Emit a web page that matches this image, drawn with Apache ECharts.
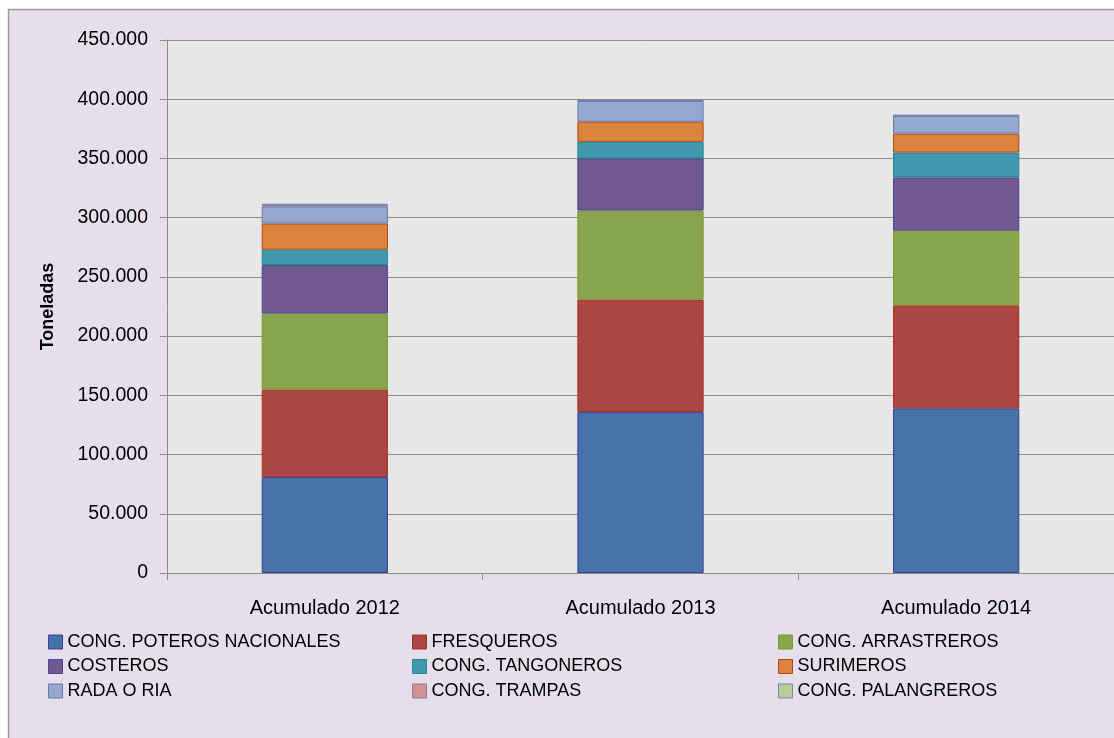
<!DOCTYPE html>
<html>
<head>
<meta charset="utf-8">
<script src="https://cdn.jsdelivr.net/npm/echarts@6/dist/echarts.min.js"></script>
<style>
html,body{margin:0;padding:0;background:#fff;}
#c{width:1114px;height:738px;}
</style>
</head>
<body>
<div id="c"></div>
<script>
const categories = ['Acumulado 2012', 'Acumulado 2013', 'Acumulado 2014'];
const seriesNames = ['CONG. POTEROS NACIONALES', 'FRESQUEROS', 'CONG. ARRASTREROS', 'COSTEROS', 'CONG. TANGONEROS', 'SURIMEROS', 'RADA O RIA', 'CONG. TRAMPAS', 'CONG. PALANGREROS'];
const poteros = [81000, 136000, 139000];
const fresqueros = [74000, 95000, 87000];
const arrastreros = [64000, 75000, 63000];
const costeros = [41000, 44000, 45000];
const tangoneros = [13000, 14000, 21000];
const surimeros = [22000, 17000, 16000];
const rada = [14500, 17500, 15000];
const trampas = [1000, 500, 300];
const palangreros = [1200, 500, 300];
const yTicks = [0, 50000, 100000, 150000, 200000, 250000, 300000, 350000, 400000, 450000];

const values = [poteros, fresqueros, arrastreros, costeros, tangoneros, surimeros, rada, trampas, palangreros];
const colors = ['#4572a7', '#aa4643', '#89a54e', '#71588f', '#4198af', '#db843d', '#93a9cf', '#d19392', '#b9cd96'];
const borders = ['#3d3d9e', '#a8331c', '#7f9a2a', '#47449a', '#1f8a8a', '#b0471a', '#7276a8', '#8a7aa8', '#7a80b0'];

function fmt(v){ return String(v).replace(/\B(?=(\d{3})+(?!\d))/g, '.'); }

const chart = echarts.init(document.getElementById('c'));
const font = 'Liberation Sans';
const series = seriesNames.map((n, i) => ({
  name: n, type: 'bar', stack: 'total', data: values[i], barWidth: '40%',
  itemStyle: { color: colors[i], borderColor: borders[i], borderWidth: 1 },
  emphasis: { disabled: true }
}));
function legend(idx, left){
  return {
    orient: 'vertical', left: left, top: 632, padding: 0, itemWidth: 14, itemHeight: 14, itemGap: 4.5,
    icon: 'rect', selectedMode: false,
    data: idx.map(i => ({ name: seriesNames[i], itemStyle: { color: colors[i], borderColor: borders[i], borderWidth: 1 } })),
    textStyle: { fontFamily: font, fontSize: 18, lineHeight: 20, color: '#000' }
  };
}
chart.setOption({
  animation: false,
  backgroundColor: '#ffffff',
  graphic: [{ type: 'rect', z: -10, shape: { x: 8.5, y: 9.5, width: 1200, height: 800 }, style: { fill: '#e5dfec', stroke: '#9a9a9a', lineWidth: 1.5 } }],
  grid: { left: 167, right: 0, top: 40, bottom: 165, show: true, backgroundColor: '#e7e7e7', borderWidth: 0 },
  legend: [legend([0,3,6], 48), legend([1,4,7], 412), legend([2,5,8], 778)],
  xAxis: {
    type: 'category', data: categories,
    axisLine: { lineStyle: { color: '#8c8c8c', width: 1 } },
    axisTick: { show: true, length: 7, lineStyle: { color: '#8c8c8c' } },
    axisLabel: { fontFamily: font, fontSize: 20, color: '#000', margin: 25 }
  },
  yAxis: {
    type: 'value', min: 0, max: 450000, interval: 50000,
    name: 'Toneladas', nameLocation: 'middle', nameGap: 110, nameRotate: 90,
    nameTextStyle: { fontFamily: font, fontSize: 18, fontWeight: 'bold', color: '#000' },
    axisLine: { show: true, lineStyle: { color: '#8c8c8c' } },
    axisTick: { show: true, length: 7, lineStyle: { color: '#8c8c8c' } },
    splitLine: { lineStyle: { color: '#8c8c8c', width: 1 } },
    axisLabel: { fontFamily: font, fontSize: 19.5, color: '#000', margin: 19,
      formatter: v => yTicks.includes(v) ? fmt(v) : '' }
  },
  series: series
});
</script>
</body>
</html>
